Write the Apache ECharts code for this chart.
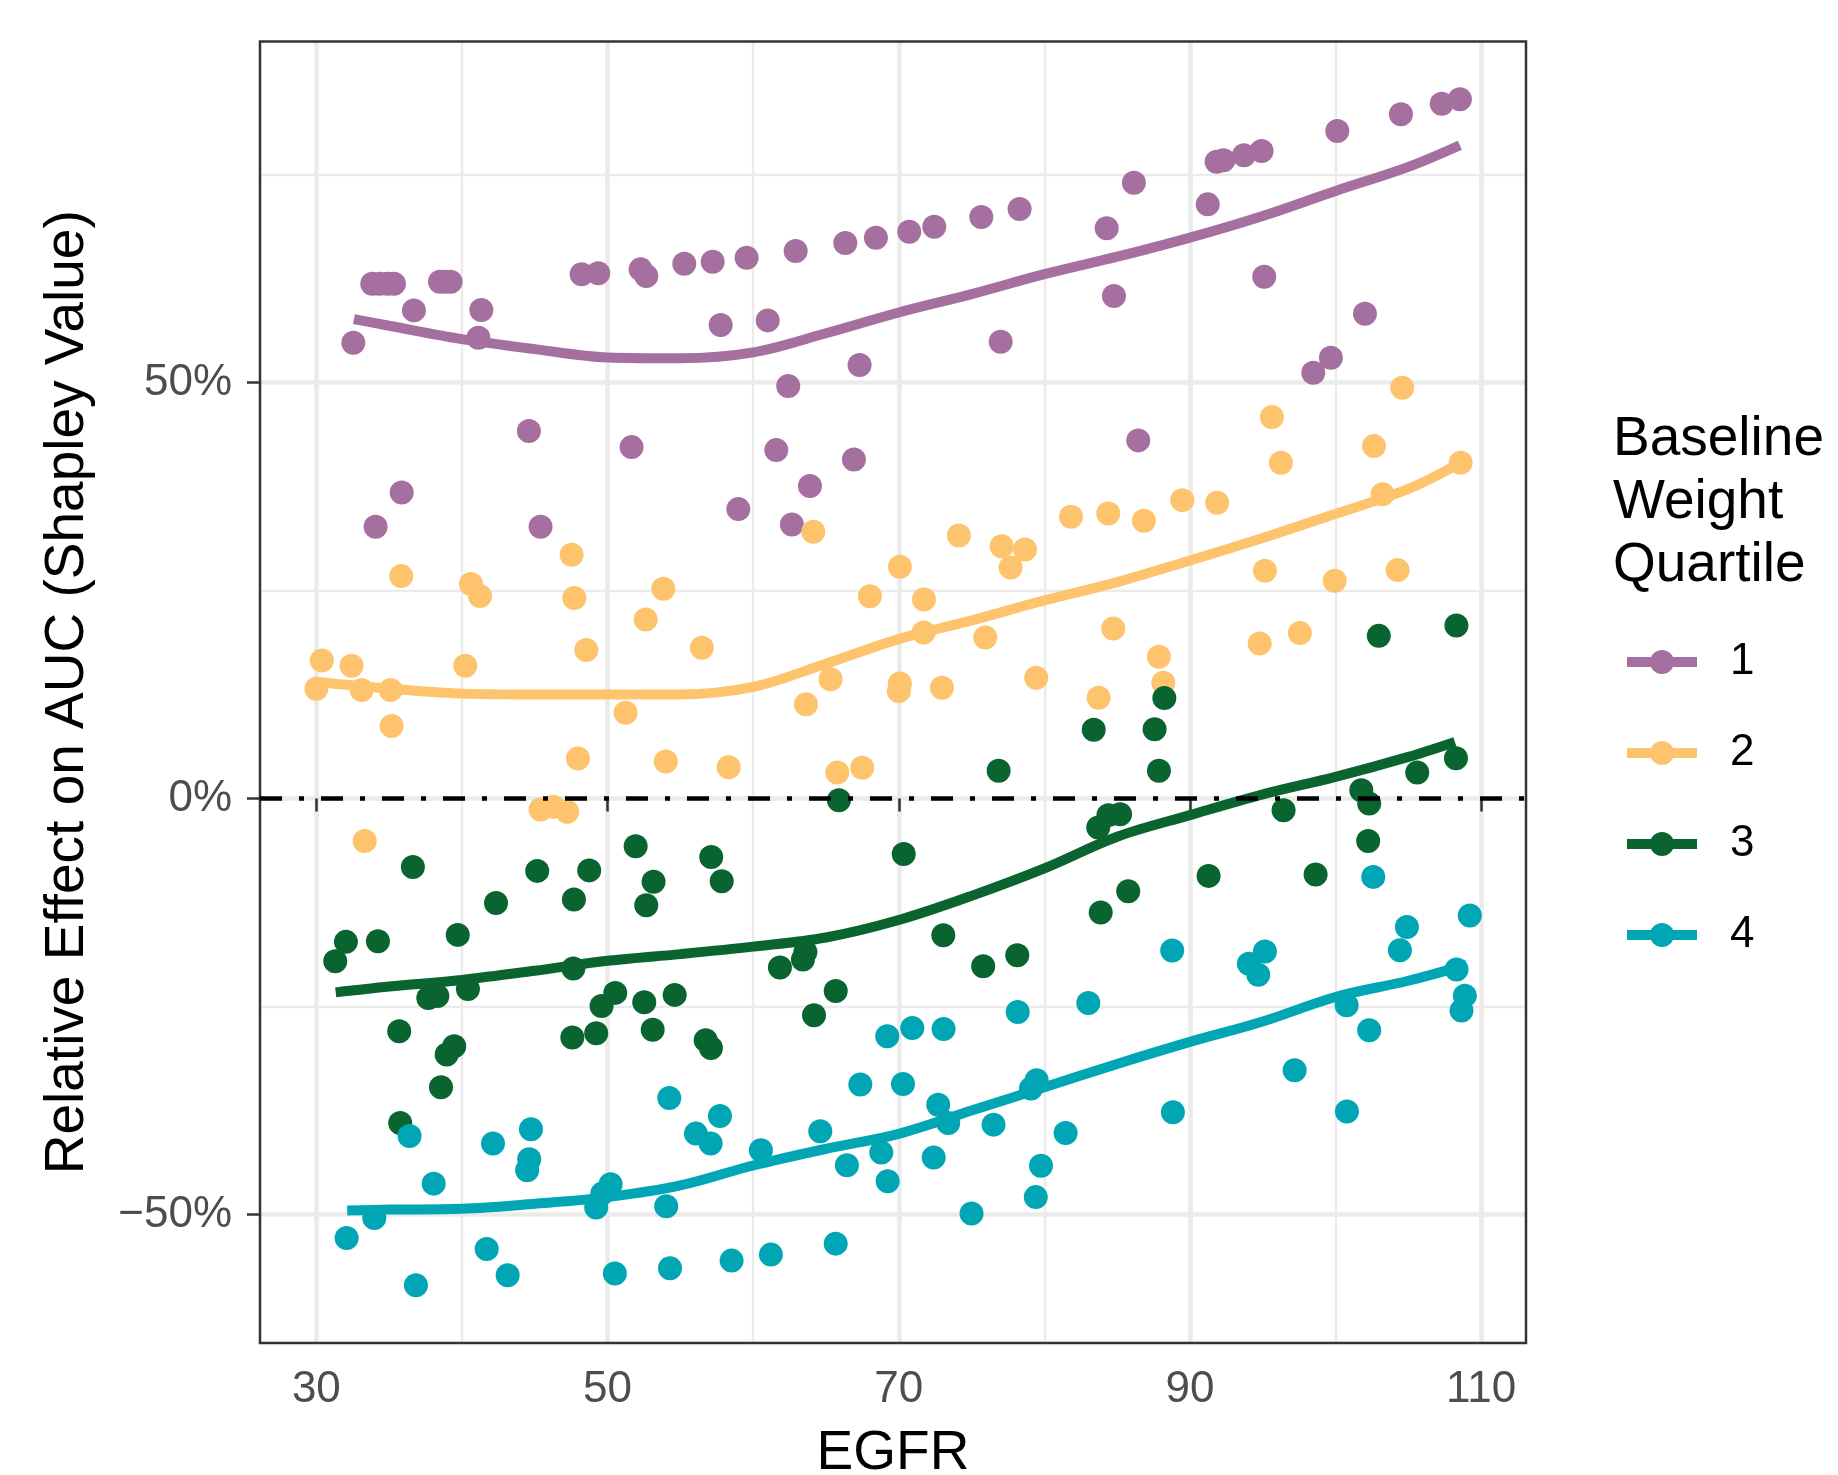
<!DOCTYPE html>
<html>
<head>
<meta charset="utf-8">
<title>Relative Effect on AUC by EGFR</title>
<script src="https://cdn.jsdelivr.net/npm/echarts@6/dist/echarts.min.js"></script>
<style>
  html, body { margin: 0; padding: 0; background: #ffffff; }
  #chart { width: 1838px; height: 1475px; }
</style>
</head>
<body>
<div id="chart"></div>
<script>
// quartile names and colours
const quartiles = ['1', '2', '3', '4'];
const colors = ['#A5709F', '#FEC36D', '#0A6430', '#00A6B4'];

// axis ticks (major) and minor grid positions
const xMajor = [30, 50, 70, 90, 110];
const xMinor = [40, 60, 80, 100];
const yMajor = [-50, 0, 50];
const yMinor = [-25, 25, 75];

// points: [EGFR, relative effect %]
const q1Points = [
  [32.54, 54.76], [33.84, 61.85], [34.34, 61.85], [34.87, 61.85], [35.33, 61.85],
  [38.49, 62.1], [38.85, 62.1], [39.22, 62.1], [36.70, 58.65], [41.33, 58.7],
  [41.13, 55.36], [48.22, 62.98], [49.36, 63.1], [52.27, 63.58], [52.66, 62.78],
  [55.27, 64.26], [44.60, 44.15], [51.65, 42.22], [35.86, 36.78], [34.07, 32.64],
  [45.40, 32.64], [57.22, 64.5], [59.55, 64.98], [62.92, 65.78], [66.33, 66.74],
  [68.43, 67.38], [70.72, 68.1], [72.44, 68.7], [75.67, 69.87], [78.3, 70.83],
  [57.77, 56.89], [61.0, 57.45], [62.41, 49.56], [67.31, 52.08], [77.0, 54.88],
  [61.59, 41.86], [66.92, 40.74], [58.98, 34.77], [63.9, 37.54], [62.66, 32.93],
  [84.28, 68.51], [86.15, 74.0], [84.78, 60.37], [91.22, 71.39], [91.83, 76.51],
  [92.3, 76.68], [93.71, 77.28], [94.92, 77.8], [100.12, 80.2], [104.49, 82.21],
  [107.29, 83.49], [108.54, 84.01], [95.1, 62.69], [102.02, 58.25], [99.68, 52.96],
  [98.47, 51.15], [86.45, 43.03]
];
const q2Points = [
  [47.53, 29.28], [35.83, 26.72], [40.62, 25.76], [41.24, 24.32], [47.72, 24.08],
  [53.83, 25.2], [52.62, 21.51], [48.54, 17.83], [30.38, 16.59], [32.42, 15.95],
  [40.23, 15.95], [30.0, 13.19], [33.11, 13.03], [35.10, 13.03], [35.17, 8.70],
  [51.24, 10.3], [47.97, 4.81], [54.0, 4.45], [45.40, -1.32], [46.27, -1.0],
  [47.23, -1.6], [33.32, -5.1], [64.13, 32.04], [56.48, 18.1], [58.32, 3.76],
  [65.78, 3.12], [67.49, 3.68], [63.63, 11.33], [65.32, 14.34], [70.08, 13.82],
  [70.01, 12.9], [72.97, 13.3], [68.02, 24.31], [70.08, 27.84], [71.73, 23.92],
  [71.71, 19.95], [74.13, 31.61], [77.07, 30.32], [77.68, 27.76], [78.67, 29.93],
  [81.83, 33.85], [75.94, 19.35], [79.44, 14.5], [83.73, 12.1], [84.39, 34.25],
  [86.84, 33.37], [89.47, 35.85], [91.87, 35.53], [103.23, 36.57], [95.15, 27.36],
  [99.94, 26.15], [104.26, 27.44], [84.73, 20.43], [94.79, 18.63], [97.55, 19.87],
  [87.87, 17.02], [88.17, 13.9], [95.63, 45.83], [96.25, 40.34], [104.58, 49.35],
  [102.64, 42.34], [108.59, 40.34]
];
const q3Points = [
  [36.63, -8.22], [45.17, -8.7], [48.74, -8.64], [51.93, -5.73], [53.16, -10.0],
  [42.34, -12.55], [47.69, -12.14], [52.66, -12.82], [32.03, -17.23], [31.30, -19.55],
  [34.23, -17.15], [39.71, -16.39], [47.65, -20.43], [37.69, -23.97], [38.31, -23.73],
  [40.41, -22.89], [49.59, -24.93], [50.53, -23.36], [52.52, -24.48], [54.61, -23.60],
  [35.69, -27.97], [47.58, -28.72], [49.22, -28.21], [53.10, -27.78], [39.47, -29.76],
  [38.95, -30.76], [38.56, -34.70], [35.76, -38.99], [61.84, -20.31], [63.59, -18.44],
  [63.42, -19.35], [73.06, -16.43], [75.80, -20.16], [78.14, -18.84], [83.87, -13.7],
  [65.67, -23.12], [64.18, -26.04], [56.74, -29.05], [57.10, -29.98], [83.39, 8.25],
  [76.86, 3.32], [65.89, -0.2], [57.12, -7.02], [57.84, -9.94], [70.34, -6.66],
  [83.7, -3.5], [84.4, -2.0], [85.2, -1.9], [85.76, -11.14], [87.57, 8.33],
  [87.87, 3.32], [88.24, 12.06], [91.28, -9.3], [96.43, -1.41], [98.63, -9.13],
  [101.77, 1.0], [102.31, -0.6], [102.24, -5.1], [102.97, 19.54], [105.61, 3.12],
  [108.3, 20.78], [108.27, 4.84]
];
const q4Points = [
  [32.08, -52.81], [33.98, -50.41], [36.40, -40.55], [36.84, -58.49], [38.06, -46.28],
  [42.13, -41.47], [41.70, -54.13], [43.14, -57.29], [44.62, -43.35], [44.48, -44.67],
  [44.74, -39.75], [50.21, -46.36], [49.63, -47.48], [49.22, -49.16], [50.50, -57.09],
  [54.24, -36.0], [54.03, -49.0], [54.29, -56.46], [56.07, -40.27], [57.08, -41.47],
  [57.72, -38.15], [58.52, -55.53], [60.53, -42.27], [61.22, -54.81], [64.61, -39.99],
  [65.67, -53.49], [66.44, -44.08], [67.36, -34.37], [68.80, -42.55], [69.24, -46.0],
  [69.21, -28.57], [70.29, -34.30], [70.93, -27.57], [72.40, -43.15], [72.71, -36.79],
  [73.08, -27.69], [73.40, -38.99], [75.0, -49.88], [76.51, -39.19], [78.17, -25.65],
  [79.47, -33.85], [79.08, -34.85], [79.77, -44.12], [79.41, -47.9], [81.46, -40.19],
  [83.02, -24.57], [88.78, -18.27], [88.83, -37.70], [95.15, -18.39], [94.05, -19.87],
  [94.69, -21.19], [97.19, -32.65], [100.76, -24.84], [100.78, -37.62], [102.31, -27.85],
  [102.59, -9.42], [104.42, -18.23], [104.90, -15.43], [109.22, -14.06], [108.31, -20.56],
  [108.88, -23.69], [108.65, -25.49]
];

// smoothed trend lines
const q1Smooth = [
  [32.58, 57.6], [35, 56.8], [40, 55.2], [45, 54.0], [50, 53.0], [55, 52.9], [60, 53.6],
  [65, 55.9], [70, 58.4], [75, 60.6], [80, 63.0], [85, 65.1], [90, 67.4], [95, 70.0],
  [100, 73.0], [105, 75.9], [108.54, 78.5]
];
const q2Smooth = [
  [30.06, 14.0], [35, 13.2], [40, 12.6], [45, 12.5], [50, 12.5], [55, 12.5], [60, 13.4],
  [65, 16.2], [70, 19.15], [75, 21.4], [80, 23.8], [85, 26.0], [90, 28.6], [95, 31.3],
  [100, 34.2], [105, 37.2], [108.55, 40.3]
];
const q3Smooth = [
  [31.33, -23.3], [35, -22.6], [40, -21.8], [45, -20.7], [50, -19.5], [55, -18.7],
  [60, -17.8], [65, -16.7], [70, -14.6], [75, -11.7], [80, -8.4], [85, -4.6],
  [90, -2.0], [95, 0.5], [100, 2.6], [105, 5.0], [108.2, 6.8]
];
const q4Smooth = [
  [32.12, -49.5], [35, -49.4], [40, -49.3], [45, -48.7], [50, -47.9], [55, -46.5],
  [60, -44.1], [65, -42.1], [70, -40.3], [75, -37.5], [80, -34.7], [85, -31.9],
  [90, -29.25], [95, -26.8], [100, -23.85], [105, -21.9], [109.0, -20.0]
];

const pointSets = [q1Points, q2Points, q3Points, q4Points];
const smoothSets = [q1Smooth, q2Smooth, q3Smooth, q4Smooth];

const FONT = '"Liberation Sans", Arial, sans-serif';
const LINE_W = 10;

function gridLineData() {
  const lines = [];
  xMinor.forEach(v => lines.push({ xAxis: v, lineStyle: { width: 2.4 } }));
  yMinor.forEach(v => lines.push({ yAxis: v, lineStyle: { width: 2.4 } }));
  xMajor.forEach(v => lines.push({ xAxis: v, lineStyle: { width: 4.6 } }));
  yMajor.forEach(v => lines.push({ yAxis: v, lineStyle: { width: 4.6 } }));
  return lines;
}

const series = [];

// panel grid lines
series.push({
  name: '_grid',
  type: 'scatter',
  data: [],
  silent: true,
  markLine: {
    silent: true,
    z: 0,
    symbol: ['none', 'none'],
    label: { show: false },
    animation: false,
    lineStyle: { color: '#EBEBEB', type: 'solid' },
    data: gridLineData()
  }
});

// smooth lines first, so the legend icon takes the line + dot look
quartiles.forEach(function(q, i) {
  series.push({
    name: q,
    type: 'line',
    data: smoothSets[i],
    smooth: 0.35,
    symbol: 'circle',
    showSymbol: false,
    z: 3,
    itemStyle: { color: colors[i] },
    lineStyle: { color: colors[i], width: LINE_W }
  });
});

quartiles.forEach(function(q, i) {
  series.push({
    name: q,
    type: 'scatter',
    data: pointSets[i],
    symbolSize: 24,
    z: 2,
    itemStyle: { color: colors[i], opacity: 1 }
  });
});

// dash-dot reference line at zero
series.push({
  name: '_zero',
  type: 'scatter',
  data: [],
  silent: true,
  markLine: {
    silent: true,
    z: 10,
    symbol: ['none', 'none'],
    label: { show: false },
    animation: false,
    lineStyle: { color: '#000000', width: 4.5, type: [22, 17, 5, 17] },
    data: [{ yAxis: 0 }]
  }
});

const chart = echarts.init(document.getElementById('chart'), null, { renderer: 'canvas' });

chart.setOption({
  animation: false,
  backgroundColor: '#ffffff',
  title: {
    text: 'Baseline\nWeight\nQuartile',
    left: 1613,
    top: 408,
    padding: 0,
    textStyle: { fontFamily: FONT, fontSize: 55, fontWeight: 'normal', color: '#000000', lineHeight: 63 }
  },
  legend: {
    data: quartiles,
    orient: 'vertical',
    left: 1617,
    top: 635,
    itemWidth: 70,
    itemHeight: 30,
    itemGap: 47,
    selectedMode: false,
    lineStyle: { width: LINE_W },
    textStyle: { fontFamily: FONT, fontSize: 44, color: '#000000', lineHeight: 30, padding: [0, 0, 0, 28] }
  },
  grid: {
    left: 260,
    right: 312,
    top: 41.5,
    bottom: 132,
    show: true,
    z: 8,
    backgroundColor: 'transparent',
    borderColor: '#333333',
    borderWidth: 2.5,
    outerBoundsMode: 'none'
  },
  xAxis: {
    type: 'value',
    min: 26.13,
    max: 113.08,
    name: 'EGFR',
    nameLocation: 'middle',
    nameGap: 83,
    nameTextStyle: { fontFamily: FONT, fontSize: 55, color: '#000000' },
    axisLine: { show: false },
    axisTick: { show: true, length: 13, customValues: xMajor, lineStyle: { color: '#333333', width: 2.5 } },
    axisLabel: { customValues: xMajor, margin: 25, fontFamily: FONT, fontSize: 44, color: '#4D4D4D' },
    splitLine: { show: false }
  },
  yAxis: {
    type: 'value',
    min: -65.43,
    max: 90.96,
    name: 'Relative Effect on AUC (Shapley Value)',
    nameLocation: 'middle',
    nameRotate: 90,
    nameGap: 165,
    nameTextStyle: { fontFamily: FONT, fontSize: 55, color: '#000000' },
    axisLine: { show: false },
    axisTick: { show: true, length: 13, customValues: yMajor, lineStyle: { color: '#333333', width: 2.5 } },
    axisLabel: {
      customValues: yMajor,
      margin: 28,
      fontFamily: FONT,
      fontSize: 44,
      color: '#4D4D4D',
      formatter: function(v) {
        return (v < 0 ? '\u2212' : '') + Math.abs(v) + '%';
      }
    },
    splitLine: { show: false }
  },
  series: series
});
</script>
</body>
</html>
